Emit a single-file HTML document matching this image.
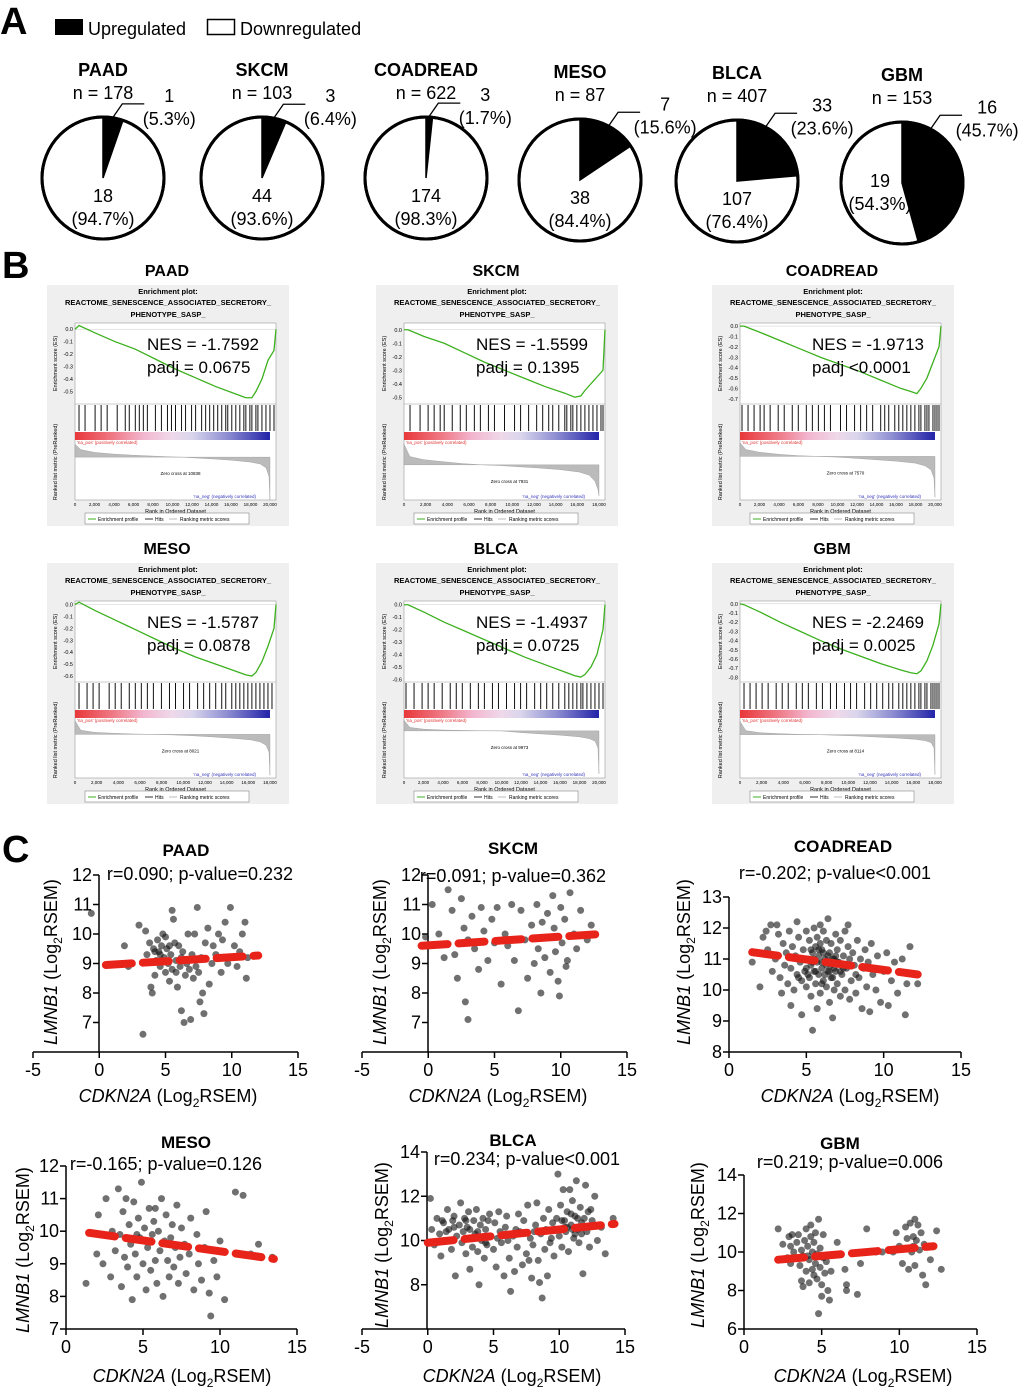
<!DOCTYPE html>
<html><head><meta charset="utf-8"><style>
html,body{margin:0;padding:0;background:#fff}
svg{display:block;font-family:"Liberation Sans",Arial,sans-serif}
</style></head><body>
<svg id="fig" width="1020" height="1393" viewBox="0 0 1020 1393" xmlns="http://www.w3.org/2000/svg">
<rect width="1020" height="1393" fill="#fff"/>
<text x="0" y="34" font-size="38" font-weight="bold">A</text>
<text x="2" y="278" font-size="38" font-weight="bold">B</text>
<text x="2" y="862" font-size="38" font-weight="bold">C</text>
<g>
<rect x="55" y="19" width="28" height="16" fill="#000"/>
<text x="88" y="35" font-size="18">Upregulated</text>
<rect x="207.5" y="19.5" width="27" height="15" fill="#fff" stroke="#000" stroke-width="1.5"/>
<text x="240" y="35" font-size="18">Downregulated</text>
</g>
</svg>
<script>
const NS='http://www.w3.org/2000/svg';
const svg=document.getElementById('fig');
function mk(tag,attrs,parent,txt){const e=document.createElementNS(NS,tag);for(const k in attrs)e.setAttribute(k,attrs[k]);if(txt!==undefined)e.textContent=txt;(parent||svg).appendChild(e);return e;}

/* ---------- Panel A data ---------- */
const pieNames=['PAAD','SKCM','COADREAD','MESO','BLCA','GBM'];
const pieN=[178,103,622,87,407,153];
const pieUp=[1,3,3,7,33,16];
const pieDown=[18,44,174,38,107,19];
const pieUpPct=[5.3,6.4,1.7,15.6,23.6,45.7];
const pieDownPct=[94.7,93.6,98.3,84.4,76.4,54.3];
const pieCx=[103,262,426,580,737,902];
const pieCy=[178,178,178,180,181,183];
const pieR=61;

pieNames.forEach((nm,i)=>{
  const g=mk('g',{});
  
  
  const cx=pieCx[i],cy=pieCy[i],r=pieR;
  const c=mk('circle',{cx,cy,r,fill:'#fff',stroke:'#000','stroke-width':3},g);
  
  
  const frac=pieUpPct[i]/100;
  const a=frac*2*Math.PI;
  const ex=cx+r*Math.sin(a),ey=cy-r*Math.cos(a);
  const s=mk('path',{d:`M${cx},${cy}L${cx},${cy-r}A${r},${r} 0 ${frac>0.5?1:0} 1 ${ex},${ey}Z`,fill:'#000',stroke:'#000','stroke-width':1.5},g);
  
  
  mk('circle',{cx,cy,r,fill:'none',stroke:'#000','stroke-width':3},g);
  const tY=cy-102;
  const t=mk('text',{x:cx,y:tY,'font-size':18,'font-weight':'bold','text-anchor':'middle'},g,nm);
  
  
  const n=mk('text',{x:cx,y:tY+23,'font-size':18,'text-anchor':'middle'},g,'n = '+pieN[i]);
  
  
  const la=Math.min(frac*Math.PI,28*Math.PI/180);
  const sx=cx+(r+1)*Math.sin(la),sy=cy-(r+1)*Math.cos(la);
  const kx=sx+9,ky=sy-13;
  const ll=mk('polyline',{points:`${sx},${sy} ${kx},${ky} ${kx+22},${ky}`,fill:'none',stroke:'#000','stroke-width':1.3},g);
  
  
  const uc=mk('text',{x:kx+47,y:ky-2,'font-size':18,'text-anchor':'middle'},g,String(pieUp[i]));
  
  
  const up=mk('text',{x:kx+47,y:ky+21,'font-size':18,'text-anchor':'middle'},g,'('+pieUpPct[i]+'%)');
  
  
  const big=frac>0.4;
  const dx=big?cx-22:cx,dy=big?cy+4:cy+24;
  const dc=mk('text',{x:dx,y:dy,'font-size':18,'text-anchor':'middle'},g,String(pieDown[i]));
  
  
  const dp=mk('text',{x:dx,y:dy+23,'font-size':18,'text-anchor':'middle'},g,'('+pieDownPct[i]+'%)');
  
  
});

/* ---------- Panel B data ---------- */
const gseaNames=['PAAD','SKCM','COADREAD','MESO','BLCA','GBM'];
const gseaNES=['-1.7592','-1.5599','-1.9713','-1.5787','-1.4937','-2.2469'];
const gseaPadj=['= 0.0675','= 0.1395','<0.0001','= 0.0878','= 0.0725','= 0.0025'];
const gseaZero=['10838','7931','7570','8021','9973','8114'];
const gseaMaxRank=[20000,18000,20000,18000,20000,18000];
const esFrac=[0,.02,.1,.2,.3,.4,.5,.6,.7,.8,.85,.88,.9,.93,.96,.99,1];
const esPAAD=[0,.03,-.03,-.1,-.16,-.24,-.32,-.39,-.46,-.52,-.55,-.55,-.5,-.4,-.25,-.17,0];
const esSKCM=[0,0,-.05,-.1,-.17,-.24,-.3,-.36,-.42,-.47,-.5,-.49,-.45,-.4,-.35,-.3,0];
const esCOAD=[0,0,-.06,-.14,-.22,-.3,-.37,-.44,-.52,-.6,-.63,-.65,-.6,-.5,-.35,-.2,0];
const esMESO=[0,.02,-.05,-.13,-.21,-.29,-.37,-.44,-.5,-.56,-.59,-.6,-.57,-.48,-.35,-.2,0];
const esBLCA=[0,0,-.06,-.14,-.21,-.28,-.35,-.42,-.48,-.54,-.57,-.58,-.56,-.5,-.4,-.2,0];
const esGBM=[0,-.01,-.09,-.2,-.3,-.4,-.49,-.57,-.65,-.72,-.75,-.76,-.73,-.62,-.45,-.22,0];
const esTop=[.05,.05,.03,.03,.03,.03];
const esBottom=[-.6,-.55,-.75,-.65,-.62,-.85];
const esTickMin=[-.5,-.5,-.7,-.6,-.6,-.8];
const hitsPAAD=[.02,.05,.1,.13,.16,.21,.25,.27,.3,.32,.34,.36,.4,.43,.46,.48,.5,.53,.55,.58,.6,.63,.65,.67,.69,.71,.73,.75,.76,.78,.8,.82,.84,.85,.87,.88,.9,.91,.93,.95,.97,.99];
const hitsSKCM=[.03,.08,.12,.15,.18,.2,.24,.28,.31,.35,.38,.42,.45,.5,.55,.58,.62,.66,.69,.72,.74,.77,.8,.81,.83,.84,.86,.88,.9,.92,.94,.96,.98,.99];
const hitsCOAD=[.01,.04,.07,.1,.12,.15,.19,.22,.26,.29,.33,.36,.39,.42,.45,.5,.53,.57,.6,.63,.66,.7,.72,.74,.77,.79,.81,.83,.85,.87,.89,.9,.92,.93,.94,.96,.97,.98,.99];
const hitsMESO=[.02,.06,.09,.12,.17,.2,.23,.27,.3,.33,.36,.39,.43,.47,.5,.54,.57,.61,.64,.67,.7,.73,.75,.78,.8,.82,.84,.86,.88,.9,.92,.94,.96,.98];
const hitsBLCA=[.01,.05,.09,.12,.15,.19,.23,.26,.29,.33,.37,.4,.44,.47,.51,.55,.58,.61,.65,.68,.71,.74,.77,.8,.82,.84,.86,.88,.89,.91,.93,.95,.97,.99];
const hitsGBM=[.02,.05,.08,.11,.14,.18,.21,.24,.28,.31,.34,.38,.41,.45,.48,.52,.55,.58,.62,.65,.68,.71,.74,.76,.79,.81,.83,.85,.87,.89,.9,.92,.93,.95,.96,.97,.98,.99];
const metFrac=[0,.03,.1,.2,.3,.4,.5,.55,.6,.7,.8,.9,.95,.98,.995,1];
const metPAAD=[6,3.5,2.2,1.4,.9,.5,.1,0,-.3,-.8,-1.4,-2.3,-3.2,-5,-9,-20];
const metSKCM=[10,4,2.5,1.5,.6,0,-.4,-.7,-1,-1.6,-2.3,-3.5,-5,-8,-12,-15];
const metCOAD=[10,5,3,1.5,.5,0,-.6,-1,-1.5,-2.5,-3.5,-5,-7,-10,-16,-30];
const metMESO=[10,3,1.5,.8,.3,0,-.4,-.7,-1,-1.8,-2.8,-4,-5.5,-8,-13,-30];
const metBLCA=[25,8,4,2,1,.3,0,-2,-4,-7,-10,-14,-18,-24,-40,-100];
const metGBM=[20,6,3,1.5,.5,0,-1,-1.5,-2,-3.5,-5,-7,-9,-12,-20,-60];
const metTop=[8,12,12,12,30,25];
const metBot=[-20,-17,-32,-32,-110,-65];
const gseaES=[esPAAD,esSKCM,esCOAD,esMESO,esBLCA,esGBM];
const gseaHits=[hitsPAAD,hitsSKCM,hitsCOAD,hitsMESO,hitsBLCA,hitsGBM];
const gseaMet=[metPAAD,metSKCM,metCOAD,metMESO,metBLCA,metGBM];
const gseaX=[47,376,712,47,376,712];
const gseaY=[285,285,285,563,563,563];

const defs=mk('defs',{});
const grad=mk('linearGradient',{id:'rb',x1:0,x2:1,y1:0,y2:0},defs);
[['0','#e8383a'],['0.2','#ef7b88'],['0.35','#f2b6cf'],['0.5','#efd9ea'],['0.6','#d9d5ec'],['0.78','#8e8ed2'],['1','#2222a8']].forEach(s=>mk('stop',{offset:s[0],'stop-color':s[1]},grad));

gseaNames.forEach((nm,i)=>{
  const ox=gseaX[i],oy=gseaY[i];
  const g=mk('g',{transform:`translate(${ox},${oy})`,'font-size':6});
  
  
  const tt=mk('text',{x:120,y:-9,'font-size':16,'font-weight':'bold','text-anchor':'middle'},g,nm);
  
  
  mk('rect',{x:0,y:0,width:242,height:241,fill:'#efefef'},g);
  mk('text',{x:121,y:9,'font-size':7.5,'font-weight':'bold','text-anchor':'middle'},g,'Enrichment plot:');
  mk('text',{x:121,y:20,'font-size':7.5,'font-weight':'bold','text-anchor':'middle'},g,'REACTOME_SENESCENCE_ASSOCIATED_SECRETORY_');
  mk('text',{x:121,y:32,'font-size':7.5,'font-weight':'bold','text-anchor':'middle'},g,'PHENOTYPE_SASP_');
  const L=28,R=229,T=38,H1=119,H2=147,G2=155,MB=215;
  mk('rect',{x:L,y:T,width:R-L,height:MB-T,fill:'#fff',stroke:'#999','stroke-width':.6},g);
  const X=f=>L+f*(R-L);
  const Yes=v=>T+(esTop[i]-v)/(esTop[i]-esBottom[i])*(H1-T);
  for(let t=0;t>=esTickMin[i]-1e-6;t-=0.1){
    mk('text',{x:L-2,y:Yes(t)+2,'font-size':5.5,'text-anchor':'end'},g,t.toFixed(1).replace('-0.0','0.0'));
  }
  mk('text',{transform:`translate(10,${(T+H1)/2}) rotate(-90)`,'font-size':5.5,'text-anchor':'middle'},g,'Enrichment score (ES)');
  mk('line',{x1:L,x2:R,y1:Yes(0),y2:Yes(0),stroke:'#ccc','stroke-width':.5},g);
  const es=gseaES[i];
  const curve=mk('polyline',{points:esFrac.map((f,k)=>X(f)+','+Yes(es[k])).join(' '),fill:'none',stroke:'#3cb01e','stroke-width':1.3},g);
  
  
  mk('line',{x1:L,x2:R,y1:H1,y2:H1,stroke:'#999','stroke-width':.6},g);
  gseaHits[i].forEach(h=>{
    const hl=mk('line',{x1:X(h),x2:X(h),y1:H1+1,y2:H2-1,stroke:'#111','stroke-width':1},g);
    
    
  });
  const gb=mk('rect',{x:L,y:H2,width:(R-L)*0.97,height:G2-H2,fill:'url(#rb)'},g);
  
  
  const Ym=v=>G2+(metTop[i]-v)/(metTop[i]-metBot[i])*(MB-G2);
  const met=gseaMet[i];
  const pts=metFrac.map((f,k)=>X(f*0.97)+','+Ym(met[k])).join(' ');
  const ma=mk('polygon',{points:`${X(0)},${Ym(0)} ${pts} ${X(0.97)},${Ym(0)}`,fill:'#bbb',stroke:'#999','stroke-width':.4},g);
  
  
  mk('text',{x:L+2,y:G2+4,'font-size':4.5,fill:'#d33'},g,"'na_pos' (positively correlated)");
  mk('text',{x:R-20,y:MB-2,'font-size':4.5,fill:'#33b','text-anchor':'end'},g,"'na_neg' (negatively correlated)");
  mk('text',{x:(L+R)/2+5,y:Ym(0)+18,'font-size':4.5,'text-anchor':'middle'},g,'Zero cross at '+gseaZero[i]);
  mk('text',{transform:`translate(10,${(G2+MB)/2-8}) rotate(-90)`,'font-size':5.5,'text-anchor':'middle'},g,'Ranked list metric (PreRanked)');
  const mr=gseaMaxRank[i];
  for(let v=0;v<=mr;v+=2000){
    mk('text',{x:X(v/mr*0.97),y:MB+6,'font-size':4.5,'text-anchor':'middle'},g,v.toLocaleString('en-US'));
  }
  mk('text',{x:(L+R)/2,y:MB+13,'font-size':5.5,'text-anchor':'middle'},g,'Rank in Ordered Dataset');
  const lg=mk('g',{},g);
  
  
  mk('rect',{x:38,y:228,width:164,height:11,fill:'#fff',stroke:'#888','stroke-width':.6},lg);
  mk('line',{x1:41,x2:49,y1:234,y2:234,stroke:'#3cb01e','stroke-width':1},lg);
  mk('text',{x:51,y:236,'font-size':5},lg,'Enrichment profile');
  mk('line',{x1:98,x2:106,y1:234,y2:234,stroke:'#333','stroke-width':1},lg);
  mk('text',{x:108,y:236,'font-size':5},lg,'Hits');
  mk('line',{x1:122,x2:130,y1:234,y2:234,stroke:'#bbb','stroke-width':1},lg);
  mk('text',{x:133,y:236,'font-size':5},lg,'Ranking metric scores');
  const t1=mk('text',{x:100,y:65,'font-size':17},g,'NES = '+gseaNES[i]);
  
  
  const t2=mk('text',{x:100,y:88,'font-size':17},g,'padj '+gseaPadj[i]);
  
  
});

/* ---------- Panel C data ---------- */
const scNames=['PAAD','SKCM','COADREAD','MESO','BLCA','GBM'];
const scStats=['r=0.090; p-value=0.232','r=0.091; p-value=0.362','r=-0.202; p-value<0.001','r=-0.165; p-value=0.126','r=0.234; p-value<0.001','r=0.219; p-value=0.006'];
const scXTicks=[[-5,0,5,10,15],[-5,0,5,10,15],[0,5,10,15],[0,5,10,15],[-5,0,5,10,15],[0,5,10,15]];
const scYTicks=[[7,8,9,10,11,12],[7,8,9,10,11,12],[8,9,10,11,12,13],[7,8,9,10,11,12],[8,10,12,14],[6,8,10,12,14]];
const scFitX=[[0.5,12],[-0.5,13],[1.5,12.2],[1.5,13.5],[0,14.2],[2.2,12.2]];
const scFitY=[[8.95,9.27],[9.6,10.0],[11.22,10.5],[9.95,9.15],[9.9,10.75],[9.6,10.3]];
const ptsPAAD=[[-0.6,10.7],[1.9,9.6],[2.2,8.9],[3.0,10.3],[3.3,6.6],[3.5,10.1],[3.6,9.3],[3.8,9.7],[3.9,8.2],[4.0,8.0],[4.1,9.5],[4.2,8.6],[4.3,9.1],[4.4,9.8],[4.5,9.4],[4.6,8.9],[4.7,9.6],[4.8,10.0],[4.9,9.2],[5.0,8.7],[5.0,9.9],[5.1,9.5],[5.2,9.0],[5.3,8.4],[5.4,9.3],[5.5,10.8],[5.5,8.8],[5.6,10.5],[5.7,9.7],[5.8,9.1],[5.9,8.2],[6.0,9.6],[6.1,8.9],[6.2,7.4],[6.3,9.4],[6.4,7.0],[6.5,8.6],[6.6,9.0],[6.7,10.0],[6.8,8.8],[6.9,7.1],[7.0,9.3],[7.1,8.5],[7.2,10.0],[7.3,8.9],[7.4,10.9],[7.5,8.7],[7.6,7.7],[7.7,9.2],[7.8,8.0],[7.9,7.3],[8.0,9.7],[8.2,10.2],[8.3,8.3],[8.5,9.0],[8.6,9.6],[8.8,9.3],[9.0,10.0],[9.2,8.7],[9.3,9.8],[9.5,10.4],[9.7,9.0],[9.9,10.9],[10.0,9.2],[10.2,9.6],[10.4,8.9],[10.6,9.4],[10.8,10.0],[11.0,10.4],[11.1,8.5],[11.2,9.2],[4.6,9.3],[5.3,9.6],[6.2,9.2],[4.2,9.4],[5.8,8.7]];
const ptsSKCM=[[0.3,11.0],[0.8,10.0],[1.5,11.5],[1.8,10.8],[2.0,9.3],[2.2,8.5],[2.5,11.2],[2.7,10.2],[2.8,7.7],[3.0,9.8],[3.0,7.1],[3.3,10.6],[3.5,9.5],[3.8,8.8],[4.0,10.9],[4.2,10.1],[4.5,9.1],[4.8,10.5],[5.0,9.7],[5.2,10.9],[5.5,8.3],[5.8,10.0],[6.0,9.6],[6.3,11.0],[6.5,9.1],[7.0,10.8],[7.3,9.8],[7.5,8.5],[7.8,10.3],[8.0,9.0],[8.2,11.0],[8.3,9.5],[8.5,8.0],[8.6,10.4],[8.8,9.2],[9.0,10.7],[9.1,9.9],[9.2,8.7],[9.4,11.3],[9.5,10.2],[9.6,9.4],[9.8,8.4],[10.0,10.9],[10.1,9.7],[10.3,10.5],[10.5,9.1],[10.7,11.4],[11.0,10.0],[11.2,9.5],[11.5,10.8],[12.0,9.8],[12.3,10.3],[-0.2,9.9],[1.2,9.2],[6.8,7.4],[9.9,7.9],[10.4,8.9]];
const ptsCOAD=[[1.5,10.9],[2.0,10.1],[2.2,11.7],[2.5,11.3],[2.7,12.1],[2.8,10.6],[3.0,11.0],[3.2,11.8],[3.3,10.4],[3.4,9.9],[3.5,11.5],[3.6,10.8],[3.7,11.2],[3.8,10.2],[3.9,11.9],[4.0,10.7],[4.1,11.4],[4.2,10.0],[4.3,11.1],[4.4,10.5],[4.5,11.7],[4.6,10.9],[4.7,9.2],[4.7,10.3],[4.8,11.3],[4.9,10.6],[5.0,11.9],[5.0,10.1],[5.1,11.0],[5.2,10.4],[5.2,11.6],[5.3,10.8],[5.3,9.8],[5.4,11.2],[5.4,8.7],[5.5,10.6],[5.5,12.0],[5.6,11.4],[5.6,10.2],[5.7,10.9],[5.7,11.7],[5.8,10.5],[5.8,11.1],[5.9,9.9],[5.9,11.5],[6.0,10.7],[6.0,11.3],[6.1,10.3],[6.1,11.9],[6.2,10.9],[6.2,11.0],[6.3,10.1],[6.3,11.6],[6.4,10.6],[6.4,12.3],[6.5,11.2],[6.5,9.6],[6.6,10.8],[6.6,11.5],[6.7,10.4],[6.7,9.1],[6.8,11.0],[6.8,10.0],[6.9,11.8],[6.9,10.6],[7.0,11.3],[7.0,10.2],[7.1,10.9],[7.2,11.6],[7.2,9.8],[7.3,10.5],[7.4,11.1],[7.5,10.0],[7.5,11.9],[7.6,10.7],[7.7,11.4],[7.8,9.7],[7.9,10.3],[8.0,11.2],[8.1,10.8],[8.2,9.9],[8.3,11.6],[8.4,10.4],[8.5,11.0],[8.6,9.4],[8.7,10.7],[8.8,11.3],[8.9,10.1],[9.0,10.9],[9.1,9.3],[9.2,11.5],[9.3,10.5],[9.5,10.0],[9.6,11.1],[9.8,9.6],[10.0,10.6],[10.2,11.2],[10.3,9.5],[10.5,10.3],[10.7,10.9],[10.9,9.9],[11.2,11.0],[11.4,9.2],[11.5,10.2],[11.7,11.4],[12.2,10.2],[2.4,11.9],[3.1,12.1],[4.4,12.2],[5.9,12.1],[7.7,12.1],[4.0,9.5],[5.7,9.4],[5.1,10.5],[5.4,10.9],[5.6,10.6],[5.8,11.3],[6.0,10.9],[6.2,10.5],[6.4,11.1],[6.6,10.4],[6.8,10.7],[7.0,10.9],[7.2,10.6],[5.5,11.0],[6.1,11.2],[6.3,10.8],[6.5,10.6],[6.7,11.0],[4.9,11.0],[5.3,11.3],[6.9,11.1],[7.4,10.7],[4.5,10.4],[5.0,10.7],[6.0,10.2],[7.8,11.0],[8.2,10.5]];
const ptsMESO=[[1.3,8.4],[2.1,10.5],[2.4,9.0],[2.6,11.0],[2.9,8.6],[3.0,10.0],[3.2,9.4],[3.4,11.3],[3.5,9.9],[3.6,8.3],[3.7,10.6],[3.8,9.2],[3.9,11.0],[4.0,8.9],[4.1,10.2],[4.2,9.6],[4.3,7.9],[4.4,10.9],[4.5,9.3],[4.6,8.6],[4.7,10.4],[4.8,9.8],[4.9,11.5],[5.0,9.0],[5.1,10.1],[5.2,8.2],[5.3,9.5],[5.4,10.7],[5.5,8.8],[5.6,9.9],[5.7,10.3],[5.8,9.1],[5.9,8.4],[6.0,10.0],[6.1,9.4],[6.2,11.0],[6.3,8.0],[6.4,9.7],[6.5,10.5],[6.6,9.1],[6.7,8.6],[6.8,9.8],[6.9,10.2],[7.0,8.9],[7.1,9.5],[7.2,10.8],[7.3,8.4],[7.4,9.2],[7.5,10.1],[7.7,9.6],[7.8,8.7],[8.0,9.3],[8.1,10.4],[8.3,8.2],[8.5,9.9],[8.6,9.0],[8.8,8.5],[9.0,9.5],[9.1,10.6],[9.3,8.1],[9.4,7.4],[9.6,9.1],[9.8,8.6],[10.0,9.7],[10.3,7.9],[11.0,11.2],[11.5,11.1],[12.0,9.3],[12.5,9.6],[13.4,9.2],[2.0,9.3],[4.6,9.9],[5.8,10.7]];
const ptsBLCA=[[0.2,11.9],[0.3,10.5],[0.5,9.8],[0.7,11.0],[0.9,10.3],[1.0,9.3],[1.2,10.8],[1.3,10.0],[1.5,11.4],[1.6,10.5],[1.8,9.6],[1.9,10.9],[2.0,11.1],[2.1,8.4],[2.2,10.2],[2.4,10.7],[2.5,11.7],[2.6,9.9],[2.7,10.4],[2.8,11.0],[2.9,9.4],[3.0,10.6],[3.1,11.3],[3.2,8.7],[3.3,10.1],[3.4,9.7],[3.5,10.9],[3.6,10.3],[3.7,11.4],[3.8,9.5],[3.9,8.0],[4.0,10.7],[4.1,10.0],[4.2,11.0],[4.3,9.2],[4.4,10.5],[4.5,9.8],[4.7,11.2],[4.8,10.2],[5.0,9.6],[5.1,10.8],[5.2,8.8],[5.4,11.3],[5.5,10.4],[5.6,9.9],[5.8,8.4],[5.9,10.6],[6.0,11.1],[6.2,9.2],[6.3,7.7],[6.5,10.2],[6.6,8.6],[6.8,9.7],[6.9,11.2],[7.0,10.4],[7.2,8.9],[7.3,10.9],[7.5,9.4],[7.6,11.6],[7.8,10.1],[7.9,8.3],[8.0,9.8],[8.2,10.7],[8.3,11.7],[8.4,9.1],[8.5,8.1],[8.6,10.3],[8.7,7.4],[8.8,11.0],[8.9,9.6],[9.0,10.5],[9.2,11.4],[9.3,9.9],[9.5,10.8],[9.6,9.3],[9.8,11.0],[9.9,13.0],[10.0,10.2],[10.1,11.6],[10.2,9.7],[10.3,12.3],[10.4,10.9],[10.5,10.4],[10.6,11.3],[10.7,9.5],[10.8,12.3],[10.9,10.7],[11.0,11.8],[11.1,10.1],[11.2,11.1],[11.3,12.7],[11.4,10.5],[11.5,9.9],[11.6,11.5],[11.7,10.8],[11.8,8.5],[11.9,11.0],[12.0,12.5],[12.1,10.4],[12.2,11.3],[12.3,9.7],[12.5,10.9],[12.7,12.0],[12.9,10.0],[13.2,10.6],[13.5,9.4],[14.1,11.0],[10.4,10.6],[10.9,11.2],[11.4,11.0],[11.7,10.3],[10.2,10.9],[11.0,10.5],[2.0,10.6],[2.9,10.9],[3.8,10.4],[1.4,10.4],[4.6,10.9],[6.1,10.0],[7.7,9.1],[9.1,8.4],[3.2,10.5],[4.4,9.9],[5.3,10.1],[6.7,10.5],[8.1,10.4],[9.4,10.1],[10.6,10.6],[11.2,10.3],[12.4,11.4],[1.1,10.9]];
const ptsGBM=[[2.2,11.2],[2.5,10.4],[2.8,9.7],[2.9,10.8],[3.0,9.4],[3.1,10.9],[3.2,10.0],[3.3,9.7],[3.4,10.5],[3.5,10.9],[3.6,9.3],[3.7,8.5],[3.7,10.1],[3.8,8.2],[3.8,9.8],[3.9,10.6],[4.0,11.2],[4.0,9.0],[4.1,10.3],[4.2,8.4],[4.2,9.6],[4.3,10.8],[4.3,11.4],[4.4,9.1],[4.4,10.0],[4.5,8.8],[4.5,10.5],[4.6,9.4],[4.6,11.0],[4.7,8.6],[4.7,9.9],[4.8,11.7],[4.8,6.8],[4.9,9.2],[4.9,10.2],[5.0,8.3],[5.0,7.7],[5.1,9.7],[5.1,10.9],[5.2,8.9],[5.3,9.5],[5.4,8.0],[5.5,7.5],[5.6,9.0],[6.0,10.5],[6.5,9.1],[6.6,8.3],[6.6,8.0],[7.3,7.8],[7.5,9.4],[7.9,11.2],[8.5,10.0],[8.9,10.0],[9.6,10.0],[9.8,11.0],[10.0,10.3],[10.2,9.4],[10.4,11.3],[10.5,10.7],[10.6,9.1],[10.7,11.5],[10.8,10.0],[10.9,10.8],[11.0,11.7],[11.0,9.3],[11.1,10.6],[11.2,11.4],[11.3,10.1],[11.4,11.0],[11.5,8.8],[11.6,10.4],[11.7,8.3],[12.0,9.6],[12.4,11.1],[12.7,9.1],[3.0,10.3],[4.1,9.8],[10.9,10.3]];
const scPts=[ptsPAAD,ptsSKCM,ptsCOAD,ptsMESO,ptsBLCA,ptsGBM];
/* layout (pixel frames, not data) */
const scLay=[
 {x0:-5,x1:15,px0:33,px1:298,y0:6,y1:12,py0:1052,py1:875,ax:99,tx:186,ty:856,sx:200,sy:880,lx:168,ly:1102,yl:57,ylc:962},
 {x0:-5,x1:15,px0:362,px1:627,y0:6,y1:12,py0:1052,py1:875,ax:428,tx:513,ty:854,sx:513,sy:882,lx:498,ly:1102,yl:386,ylc:962},
 {x0:0,x1:15,px0:729,px1:961,y0:8,y1:13,py0:1052,py1:897,ax:729,tx:843,ty:852,sx:835,sy:879,lx:850,ly:1102,yl:690,ylc:962},
 {x0:0,x1:15,px0:66,px1:297,y0:7,y1:12,py0:1329,py1:1166,ax:66,tx:186,ty:1148,sx:166,sy:1170,lx:182,ly:1382,yl:29,ylc:1250},
 {x0:-5,x1:15,px0:362,px1:625,y0:6,y1:14,py0:1329,py1:1152,ax:427,tx:513,ty:1146,sx:527,sy:1165,lx:512,ly:1382,yl:388,ylc:1245},
 {x0:0,x1:15,px0:744,px1:977,y0:6,y1:14,py0:1329,py1:1175,ax:744,tx:840,ty:1149,sx:850,sy:1168,lx:863,ly:1382,yl:704,ylc:1245}
];

scNames.forEach((nm,i)=>{
  const L=scLay[i];
  const X=v=>L.px0+(v-L.x0)/(L.x1-L.x0)*(L.px1-L.px0);
  const Y=v=>L.py0+(v-L.y0)/(L.y1-L.y0)*(L.py1-L.py0);
  const g=mk('g',{'font-size':18});
  
  
  const t=mk('text',{x:L.tx,y:L.ty,'font-weight':'bold','text-anchor':'middle','font-size':17},g,nm);
  
  
  const st=mk('text',{x:L.sx,y:L.sy,'text-anchor':'middle'},g,scStats[i]);
  
  
  const xa=mk('line',{x1:L.px0,x2:L.px1,y1:L.py0,y2:L.py0,stroke:'#000','stroke-width':1.5},g);
  
  
  scXTicks[i].forEach(v=>{
    mk('line',{x1:X(v),x2:X(v),y1:L.py0,y2:L.py0+6,stroke:'#000','stroke-width':1.5},g);
    const tl=mk('text',{x:X(v),y:L.py0+24,'text-anchor':'middle'},g,String(v));
    
    
  });
  const ya=mk('line',{x1:L.ax,x2:L.ax,y1:L.py0,y2:L.py1,stroke:'#000','stroke-width':1.5},g);
  
  
  scYTicks[i].forEach(v=>{
    mk('line',{x1:L.ax-6,x2:L.ax,y1:Y(v),y2:Y(v),stroke:'#000','stroke-width':1.5},g);
    const tl=mk('text',{x:L.ax-7,y:Y(v)+6,'text-anchor':'end'},g,String(v));
    
    
  });
  const xl=mk('text',{x:L.lx,y:L.ly,'text-anchor':'middle'},g);
  
  
  mk('tspan',{'font-style':'italic'},xl,'CDKN2A');
  mk('tspan',{},xl,' (Log');
  mk('tspan',{dy:5,'font-size':12},xl,'2');
  mk('tspan',{dy:-5},xl,'RSEM)');
  const yl=mk('text',{transform:`translate(${L.yl},${L.ylc}) rotate(-90)`,'text-anchor':'middle'},g);
  
  
  mk('tspan',{'font-style':'italic'},yl,'LMNB1');
  mk('tspan',{},yl,' (Log');
  mk('tspan',{dy:5,'font-size':12},yl,'2');
  mk('tspan',{dy:-5},yl,'RSEM)');
  scPts[i].forEach(p=>{
    const c=mk('circle',{cx:X(p[0]),cy:Y(p[1]),r:3.5,fill:'rgba(25,25,25,0.62)'},g);
    
    
  });
  const fl=mk('line',{x1:X(scFitX[i][0]),y1:Y(scFitY[i][0]),x2:X(scFitX[i][1]),y2:Y(scFitY[i][1]),stroke:'#e8231a','stroke-width':8,'stroke-dasharray':'26,11','stroke-linecap':'round'},g);
  
  
});
</script>
</body></html>
